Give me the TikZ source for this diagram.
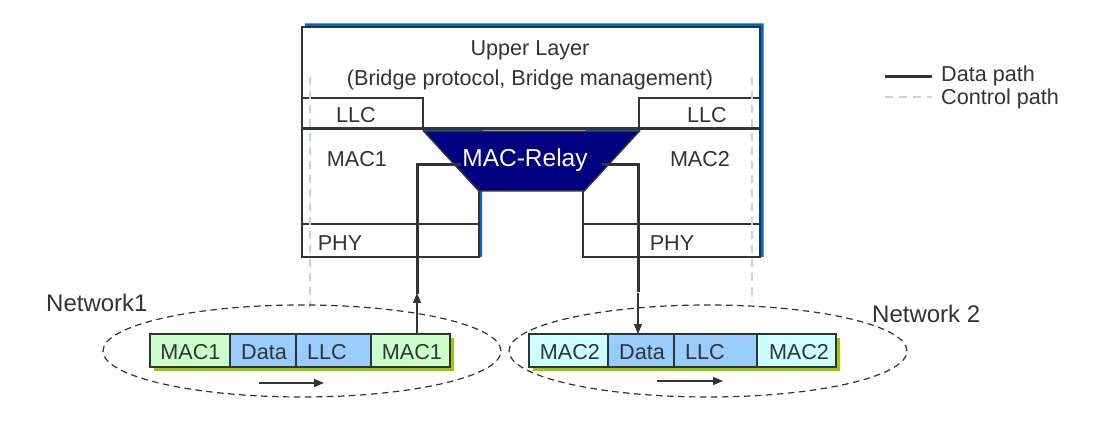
\documentclass[tikz,border=0pt]{standalone}
\usepackage{fontspec}
\setmainfont{Liberation Sans}
\usetikzlibrary{arrows.meta,shapes.geometric}
\definecolor{ink}{HTML}{333333}
\definecolor{inkdark}{HTML}{2E3440}
\definecolor{bshadow}{HTML}{0066CC}
\definecolor{navyrelay}{HTML}{000080}
\definecolor{ctrl}{HTML}{C8D2DE}
\definecolor{gshadow}{HTML}{99CC00}
\definecolor{macg}{HTML}{CCFFCC}
\definecolor{macc}{HTML}{CCFFFF}
\definecolor{pblue}{HTML}{99CCFF}
\begin{document}
\begin{tikzpicture}[x=1pt,y=-1pt,
 txt/.style={font=\fontsize{21.6}{25}\selectfont, text=ink, inner sep=0pt, anchor=base},
 bigtxt/.style={font=\fontsize{24}{28}\selectfont, text=ink, inner sep=0pt, anchor=base west},
 layerbox/.style={draw=ink, line width=1.2pt, fill=white, inner sep=0pt, outer sep=0pt, anchor=north west},
 datapath/.style={draw=ink, line width=3pt},
 ctrlpath/.style={draw=ctrl, line width=2pt, dash pattern=on 8pt off 6pt},
 thinarrow/.style={draw=ink, line width=1.2pt, -{Triangle[length=10pt,width=8pt]}},
 cell/.style={draw=ink, line width=1.2pt, minimum height=33pt, inner sep=0pt, outer sep=0pt, anchor=north west},
 net/.style={draw=ink, line width=1.2pt, dash pattern=on 6.5pt off 4.5pt, ellipse, minimum width=398pt, minimum height=92pt, inner sep=0pt}
]
\useasboundingbox (0,0) rectangle (1101,422);
\fill[white] (0,0) rectangle (1101,422);

% blue shadow of the bridge
\fill[bshadow] (305,23.5) -- (763.5,23.5) -- (763.5,257) -- (586,257) -- (586,188) -- (482,188) -- (482,257) -- (305,257) -- cycle;

% layer boxes
\node[layerbox, minimum width=458pt, minimum height=102pt] (upper) at (302,27) {};
\node[layerbox, minimum width=121pt, minimum height=31pt] (llc1) at (302,98) {};
\node[layerbox, minimum width=121pt, minimum height=31pt] (llc2) at (639,98) {};
\node[layerbox, minimum width=177pt, minimum height=128pt] (mac1) at (302,129) {};
\node[layerbox, minimum width=177pt, minimum height=33pt] (phy1) at (302,224) {};
\node[layerbox, minimum width=177pt, minimum height=128pt] (mac2) at (583,129) {};
\node[layerbox, minimum width=177pt, minimum height=33pt] (phy2) at (583,224) {};

% control paths
\draw[ctrlpath] (310,77) coordinate (ctlLtop) -- (310,307) coordinate (ctlLbot);
\draw[ctrlpath] (752,77) coordinate (ctlRtop) -- (752,302) coordinate (ctlRbot);

% thick separator
\draw[draw=inkdark, line width=3pt] (upper.south west) -- (upper.south east);
\draw[bshadow, line width=1pt] (423,130.8) -- (483,130.8);
\draw[bshadow, line width=1pt] (586,130.8) -- (640,130.8);
\draw[gray!40, line width=1pt] (483,130.8) -- (586,130.8);

% MAC relay
\filldraw[fill=navyrelay, draw=ink, line width=1.5pt] (424,131.5) -- (639,131.5) -- (584,191) -- (479,191) -- cycle;
\node[font=\fontsize{24.5}{28}\selectfont, text=white, inner sep=0pt, anchor=base] (relay) at (525,167) {MAC-Relay};
\coordinate (relayL) at (461,165);
\coordinate (relayR) at (602,165);

% texts of layers
\node[txt] (tUpper) at (530,56) {Upper Layer};
\node[txt] (tBridge) at (530,85.7) {(Bridge protocol, Bridge management)};
\node[txt] (tLLC1) at (356,123) {LLC};
\node[txt] (tLLC2) at (707,123) {LLC};
\node[txt] (tMAC1) at (357,167) {MAC1};
\node[txt] (tMAC2) at (700,167) {MAC2};
\node[txt] (tPHY1) at (340,251) {PHY};
\node[txt] (tPHY2) at (672,251) {PHY};

% networks
\node[net] (net1) at (302,351) {};
\node[net] (net2) at (708,351) {};
\node[bigtxt] (lnet1) at (46,312) {Network1};
\node[bigtxt] (lnet2) at (872,322) {Network 2};

% packet 1
\fill[gshadow] (154,338) rectangle (454,371);
\node[cell, fill=macg, minimum width=80pt] (a1) at (150,334) {};
\node[cell, fill=pblue, minimum width=66pt] (a2) at (230,334) {};
\node[cell, fill=pblue, minimum width=75pt] (a3) at (296,334) {};
\node[cell, fill=macg, minimum width=79pt] (a4) at (371,334) {};
\node[txt] (ta1) at (190.5,359) {MAC1};
\node[txt] (ta2) at (264,359) {Data};
\node[txt] (ta3) at (327,359) {LLC};
\node[txt] (ta4) at (412,359) {MAC1};

% packet 2
\fill[gshadow] (533,338) rectangle (840,371);
\node[cell, fill=macc, minimum width=79pt] (b1) at (529,334) {};
\node[cell, fill=pblue, minimum width=66pt] (b2) at (608,334) {};
\node[cell, fill=pblue, minimum width=83pt] (b3) at (674,334) {};
\node[cell, fill=macc, minimum width=79pt] (b4) at (757,334) {};
\node[txt] (tb1) at (570,359) {MAC2};
\node[txt] (tb2) at (642,359) {Data};
\node[txt] (tb3) at (705,359) {LLC};
\node[txt] (tb4) at (799,359) {MAC2};

% direction arrows
\coordinate (dirAs) at (259,383);
\coordinate (dirAe) at (324,383);
\coordinate (dirBs) at (657,381);
\coordinate (dirBe) at (723,381);
\draw[thinarrow] (dirAs) -- (dirAe);
\draw[thinarrow] (dirBs) -- (dirBe);

% data paths
\coordinate (bendL) at (417,165);
\coordinate (upL) at (417,293);
\coordinate (inL) at (417,334);
\coordinate (bendR) at (638,165);
\coordinate (downR) at (638,292);
\coordinate (inR) at (638,334);
\draw[thinarrow] (inL) -- (upL);
\draw[datapath] (relayL) -- (bendL) -- ([yshift=-1pt]upL);
\draw[datapath] (relayR) -- (bendR) -- (downR);
\draw[thinarrow] ([yshift=-1pt]downR) -- (inR);

% legend
\coordinate (legAs) at (885,77);
\coordinate (legAe) at (932,77);
\coordinate (legBs) at (885,97);
\coordinate (legBe) at (932,97);
\draw[datapath] (legAs) -- (legAe);
\draw[ctrlpath] (legBs) -- (legBe);
\node[txt, anchor=base west] (tleg1) at (941,81.7) {Data path};
\node[txt, anchor=base west] (tleg2) at (941,105) {Control path};
\end{tikzpicture}
\end{document}
